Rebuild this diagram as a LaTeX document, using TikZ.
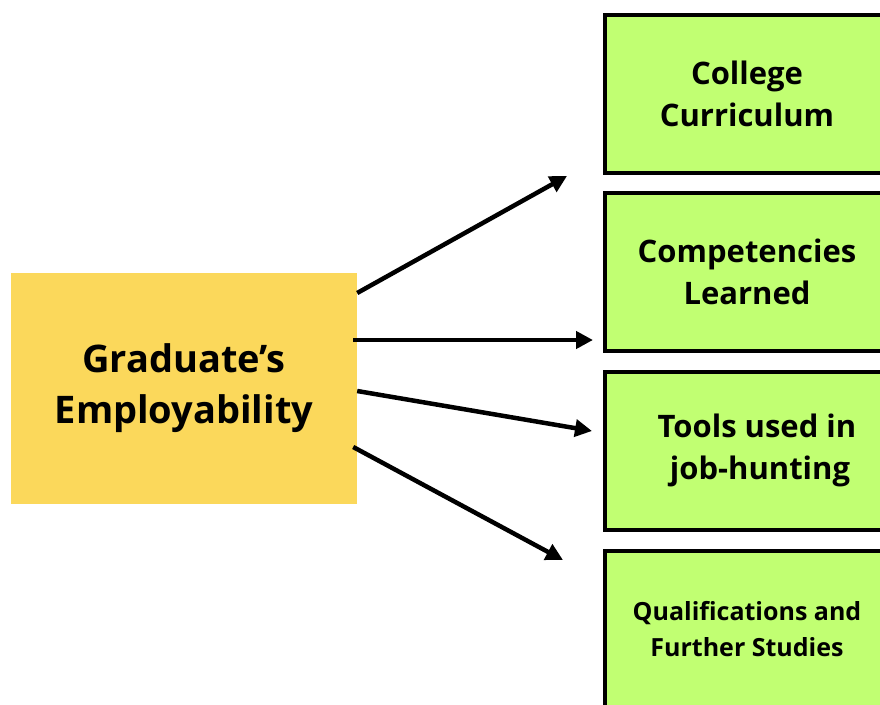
\documentclass[tikz,border=0pt]{standalone}
\usepackage{fontspec}
\setmainfont{Open Sans}
\usetikzlibrary{arrows.meta}
\usetikzlibrary{positioning}
\definecolor{gradyellow}{HTML}{FBD85B}
\definecolor{factorgreen}{HTML}{C1FF72}
\tikzstyle{mainstyle}=[rectangle, fill=gradyellow, minimum width=346, minimum height=231, align=center, font=\fontsize{38}{51}\selectfont\bfseries]
\tikzstyle{factorbox}=[rectangle, draw=black, line width=4pt, fill=factorgreen, minimum width=284, minimum height=158, align=center, font=\fontsize{31}{42}\selectfont\bfseries]
\tikzstyle{edgestyle}=[draw, line width=4.5pt, -{Triangle[length=17pt,width=17pt]}]
\newcommand{\factor}[3]{\node [factorbox] (#1) at #2 {#3};}

\begin{document}
\begin{tikzpicture}[x=1pt, y=-1pt]
\useasboundingbox (0,0) rectangle (880,704);
\node [mainstyle] (grad) at (184,388.5) {Graduate’s\\Employability};
\factor{curr}{(747,93.5)}{College\\Curriculum}
\factor{comp}{(747,272)}{Competencies\\Learned}
\factor{tools}{(747,450.5)}{\hspace*{20pt}Tools used in\\\hspace*{26pt}job-hunting}
\node [factorbox, font=\fontsize{25}{36}\selectfont\bfseries] (qual) at (747,629.5) {Qualifications and\\Further Studies};
% free arrow ends in front of the boxes
\coordinate (t1) at (567,176);
\coordinate (t2) at (593,340);
\coordinate (t3) at (592,431);
\coordinate (t4) at (563,560);
\draw [edgestyle] ([yshift=95.5pt]grad.east) -- (t1);
\draw [edgestyle] ([xshift=-4pt,yshift=48.5pt]grad.east) -- (t2);
\draw [edgestyle] ([yshift=-2.5pt]grad.east) -- (t3);
\draw [edgestyle] ([xshift=-4pt,yshift=-58.5pt]grad.east) -- (t4);
\end{tikzpicture}
\end{document}
